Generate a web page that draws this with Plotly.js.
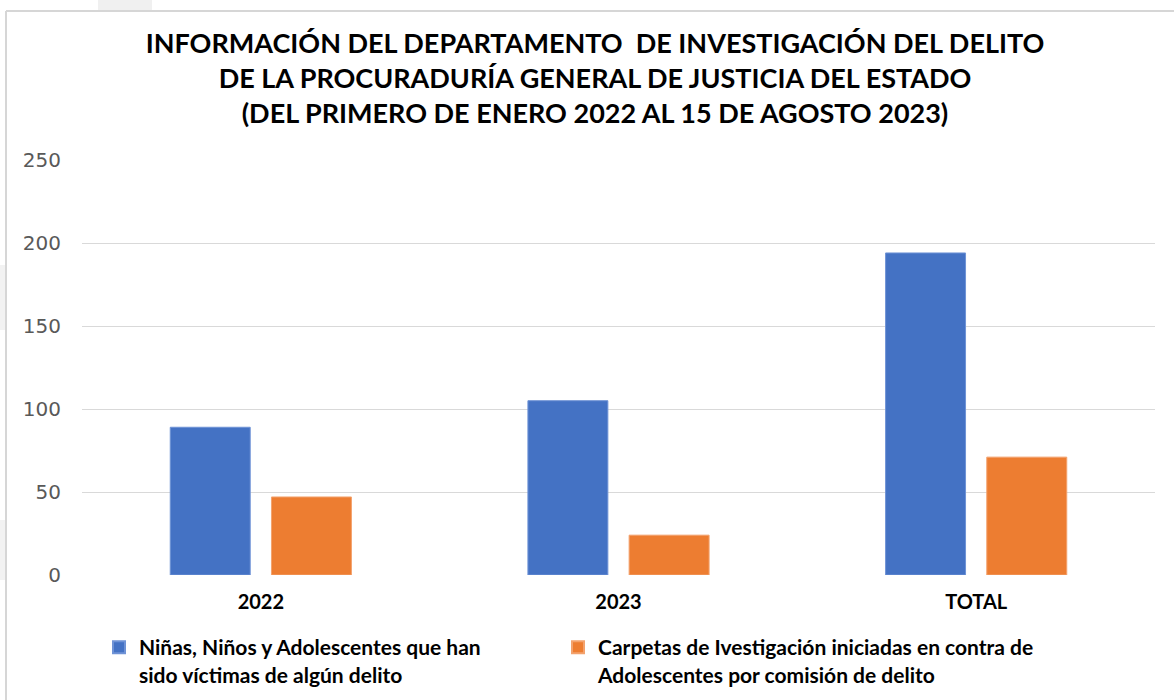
<!DOCTYPE html>
<html>
<head>
<meta charset="utf-8">
<script src="https://cdn.plot.ly/plotly-3.0.1.min.js"></script>
<style>html,body{margin:0;padding:0;background:#fff;}#chart{width:1174px;height:700px;}</style>
</head>
<body>
<div id="chart"></div>
<script>
const categories = ["2022", "2023", "TOTAL"];
const seriesNames = [
  "Niñas, Niños y Adolescentes que han<br>sido víctimas de algún delito",
  "Carpetas de Ivestigación iniciadas en contra de<br>Adolescentes por comisión de delito"
];
const victimas = [89, 105, 194];
const carpetas = [47, 24, 71];
const yTicks = [0, 50, 100, 150, 200, 250];
const titleText = "INFORMACIÓN DEL DEPARTAMENTO  DE INVESTIGACIÓN DEL DELITO<br>DE LA PROCURADURÍA GENERAL DE JUSTICIA DEL ESTADO<br>(DEL PRIMERO DE ENERO 2022 AL 15 DE AGOSTO 2023)";

const traces = [
  {type: "bar", x: categories, y: victimas, name: seriesNames[0], legend: "legend",
   marker: {color: "#4472C4", line: {color: "#6f93d6", width: 1}}, hoverinfo: "y"},
  {type: "bar", x: categories, y: carpetas, name: seriesNames[1], legend: "legend2",
   marker: {color: "#ED7D31", line: {color: "#f3a26d", width: 1}}, hoverinfo: "y"}
];

const L = 82, R = 19, T = 160, B = 125, W = 1174, H = 700;
const pw = W - L - R, ph = H - T - B;
const px = v => (v - L) / pw;
const py = v => (H - B - v) / ph;

const legendFont = {family: "Lato, 'Open Sans', sans-serif", size: 21, color: "#000000", weight: "bold"};
const legendBase = {
  orientation: "h", xanchor: "left", yanchor: "top", valign: "top",
  font: legendFont, itemsizing: "constant", bgcolor: "rgba(0,0,0,0)"
};

const layout = {
  width: W, height: H,
  paper_bgcolor: "#ffffff", plot_bgcolor: "#ffffff",
  margin: {l: L, r: R, t: T, b: B, autoexpand: false},
  title: {
    text: titleText,
    font: {family: "Lato, 'Open Sans', sans-serif", size: 27, color: "#000000", weight: "bold"},
    x: px(595), xref: "paper", xanchor: "center", y: 0.925, yanchor: "top"
  },
  barmode: "group",
  bargap: 0.434,
  bargroupgap: 0.21,
  xaxis: {
    type: "category",
    showgrid: false, zeroline: false, showline: false, ticks: "",
    tickfont: {family: "Lato, 'Open Sans', sans-serif", size: 20, color: "#000000", weight: "bold"},
    ticklabelstandoff: 13
  },
  yaxis: {
    range: [0, 250], tickvals: yTicks, ticktext: yTicks.map(String),
    showgrid: true, gridcolor: "#d9d9d9", gridwidth: 1,
    zeroline: false, showline: false, ticks: "",
    tickfont: {family: "'DejaVu Sans', Verdana, sans-serif", size: 20, color: "#595959"},
    ticklabelstandoff: 20
  },
  showlegend: true,
  legend: Object.assign({}, legendBase, {x: px(99), y: py(627)}),
  legend2: Object.assign({}, legendBase, {x: px(558), y: py(627)}),
  shapes: [
    {type: "rect", xref: "paper", yref: "paper", x0: px(98), x1: px(152), y0: py(0), y1: py(10),
     fillcolor: "#f0f0f0", line: {width: 0}, layer: "below"},
    {type: "rect", xref: "paper", yref: "paper", x0: px(0), x1: px(5), y0: py(265), y1: py(330),
     fillcolor: "#f2f2f2", line: {width: 0}, layer: "below"},
    {type: "rect", xref: "paper", yref: "paper", x0: px(0), x1: px(5), y0: py(520), y1: py(580),
     fillcolor: "#f2f2f2", line: {width: 0}, layer: "below"},
    {type: "line", xref: "paper", yref: "paper", x0: px(6), x1: px(1174), y0: py(11), y1: py(11),
     line: {color: "#d6d6d6", width: 2}},
    {type: "line", xref: "paper", yref: "paper", x0: px(6), x1: px(6), y0: py(11), y1: py(700),
     line: {color: "#d6d6d6", width: 2}}
  ]
};

Plotly.newPlot("chart", traces, layout, {displayModeBar: false, responsive: false});
</script>
</body>
</html>
